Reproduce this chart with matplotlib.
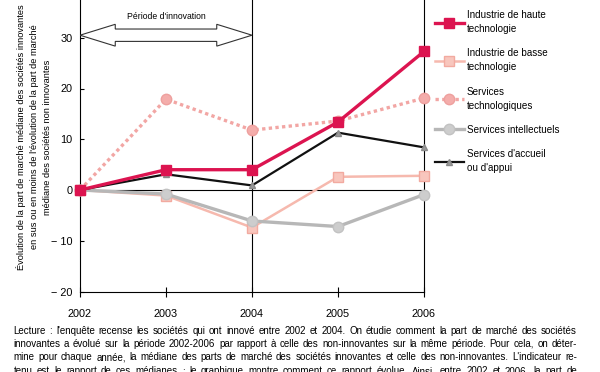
import matplotlib
matplotlib.use("Agg")
import matplotlib.pyplot as plt
from matplotlib.patches import Polygon

plt.rcParams['font.family'] = ['Liberation Sans', 'DejaVu Sans']

# data
years = [2002, 2003, 2004, 2005, 2006]
haute_tech = [0, 4.0, 4.0, 13.4, 27.3]
basse_tech = [0, -1.1, -7.4, 2.6, 2.8]
services_tech = [0, 17.9, 11.8, 13.6, 18.1]
services_intel = [0, -0.8, -6.1, -7.2, -0.9]
services_accueil = [0, 3.1, 0.9, 11.3, 8.4]

labels = ["Industrie de haute\ntechnologie", "Industrie de basse\ntechnologie",
          "Services\ntechnologiques", "Services intellectuels",
          "Services d'accueil\nou d'appui"]
yticks = [-20, -10, 0, 10, 20, 30]
ytick_labels = ["\u2212 20", "\u2212 10", "0", "10", "20", "30"]

caption = [
    "Lecture : l'enquête recense les sociétés qui ont innové entre 2002 et 2004. On étudie comment la part de marché des sociétés",
    "innovantes a évolué sur la période 2002-2006 par rapport à celle des non-innovantes sur la même période. Pour cela, on déter-",
    "mine pour chaque année, la médiane des parts de marché des sociétés innovantes et celle des non-innovantes. L'indicateur re-",
    "tenu est le rapport de ces médianes ; le graphique montre comment ce rapport évolue. Ainsi, entre 2002 et 2006, la part de",
]

fig = plt.figure(figsize=(6, 3.72), dpi=100)
ax = fig.add_axes([80 / 600, 1 - 291.5 / 372, 344 / 600, 291.5 / 372])

ax.plot(years, services_tech, color='#f2a6a4', lw=2.4, ls=(0, (1, 1)),
        marker='o', ms=7.5, mfc='#f4adab', mec='#eea09e', clip_on=False, zorder=3, label=labels[2])
ax.plot(years, basse_tech, color='#f6b9ae', lw=1.8,
        marker='s', ms=7.5, mfc='#f8c6bd', mec='#f2aaa0', clip_on=False, zorder=3, label=labels[1])
ax.plot(years, services_intel, color='#b7b7b7', lw=2.4,
        marker='o', ms=7.5, mfc='#cdcdcd', mec='#c2c2c2', clip_on=False, zorder=3, label=labels[3])
ax.plot(years, services_accueil, color='#111111', lw=1.6,
        marker='^', ms=5, mfc='#9a9a9a', mec='#8a8a8a', clip_on=False, zorder=4, label=labels[4])
ax.plot(years, haute_tech, color='#dc1450', lw=2.4,
        marker='s', ms=7, mfc='#dc1450', mec='#dc1450', clip_on=False, zorder=5, label=labels[0])

top = 190 / (101.5 / 20)
ax.set_xlim(2002, 2006)
ax.set_ylim(-20, top)
ax.axhline(0, color='black', lw=0.8, zorder=2)
ax.axvline(2004, color='black', lw=0.8, zorder=2)

ax.spines['top'].set_visible(False)
for s in ['left', 'bottom', 'right']:
    ax.spines[s].set_linewidth(0.8)

ax.set_xticks(years)
ax.set_xticklabels([str(y) for y in years], fontsize=7.8)
ax.set_yticks(yticks)
ax.set_yticklabels(ytick_labels, fontsize=7.8)
ax.tick_params(axis='x', direction='inout', length=7, width=0.8, pad=9)
ax.tick_params(axis='y', direction='in', length=3, width=0.8, pad=5.5)

fig.text(34 / 600, 1 - 137 / 372,
         "Évolution de la part de marché médiane des sociétés innovantes\n"
         "en sus ou en moins de l'évolution de la part de marché\n"
         "médiane des sociétés non innovantes",
         rotation=90, ha='center', va='center', fontsize=6.7, linespacing=1.55)

# double arrow for the innovation period
yc, hh, sh, hl = 30.5, 2.15, 1.22, 0.41
x0, x1 = years[0], years[2]
arrow = Polygon([(x0, yc), (x0 + hl, yc + hh), (x0 + hl, yc + sh), (x1 - hl, yc + sh),
                 (x1 - hl, yc + hh), (x1, yc), (x1 - hl, yc - hh), (x1 - hl, yc - sh),
                 (x0 + hl, yc - sh), (x0 + hl, yc - hh)], closed=True,
                fc='white', ec='#333333', lw=0.8, zorder=6)
ax.add_patch(arrow)
ax.text((x0 + x1) / 2, 34.1, "Période d'innovation", ha='center', va='center', fontsize=6.2)

handles, labs = ax.get_legend_handles_labels()
order = [labs.index(l) for l in labels]
leg = fig.legend([handles[i] for i in order], labels, loc='upper left',
                 bbox_to_anchor=(435 / 600, 1 - 10 / 372), frameon=False, fontsize=7.1,
                 handlelength=2.9, handletextpad=0.3, borderpad=0, borderaxespad=0,
                 labelspacing=1.45)
for t in leg.get_texts():
    t.set_linespacing(1.5)

# justified caption lines, font size chosen so the longest line fits
renderer = fig.canvas.get_renderer()
left, right = 13.5, 577.0
line_y = [333.5, 347, 360.5, 374]
probe = [fig.text(0, 0, l, fontsize=8) for l in caption]
widest = max(t.get_window_extent(renderer).width for t in probe)
for t in probe:
    t.remove()
cap_size = min(8.0, 8.0 * (right - left) / widest * 0.985)

for line, yy in zip(caption, line_y):
    words = line.split(' ')
    texts = [fig.text(0, 1 - yy / 372, w, fontsize=cap_size, va='baseline', ha='left') for w in words]
    widths = [t.get_window_extent(renderer).width for t in texts]
    gap = (right - left - sum(widths)) / (len(words) - 1)
    x = left
    for t, w in zip(texts, widths):
        t.set_x(x / 600)
        x += w + gap

fig.savefig("out.png", dpi=100)
